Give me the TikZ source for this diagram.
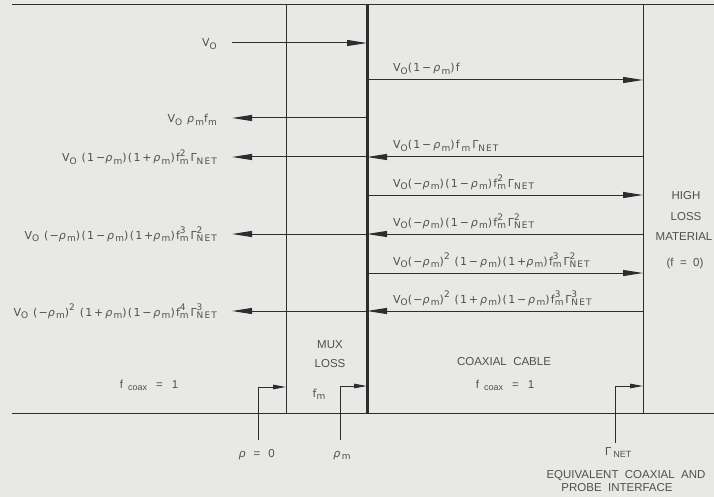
\documentclass[tikz,border=0pt]{standalone}
\usepackage{fontspec}
\setmainfont{Liberation Sans}
\newfontfamily\fxf[LetterSpace=12]{DejaVu Sans}
\usetikzlibrary{arrows.meta}
\definecolor{bgc}{RGB}{232,232,230}
\definecolor{lnc}{RGB}{45,45,45}
\definecolor{txc}{RGB}{80,80,80}
\newcommand\ssz{\fontsize{9}{9}\selectfont}
\newcommand\sbx[1]{\raisebox{-0.45ex}{\ssz #1}}
\newcommand\spx[1]{\raisebox{0.85ex}{\ssz #1}}
\newcommand\supsub[2]{\rlap{\raisebox{0.85ex}{\ssz #1}}\raisebox{-0.45ex}{\ssz #2}}
\newcommand\Vo{V\sbx{O}}
\newcommand\rh{\textit{ρ}\sbx{m}}
\newcommand\fmx[1]{f\supsub{#1}{m}}
\newcommand\GNx[1]{Γ\supsub{#1}{NET}}
\newcommand\mi{−}
\begin{document}
\begin{tikzpicture}[x=1pt,y=-1pt,
  font=\fontsize{11.5}{13}\selectfont,
  lbl/.style={text=txc, inner sep=0pt},
  flab/.style={text=txc, inner sep=0pt, font=\fxf\fontsize{11}{13}\selectfont},
  wire/.style={draw=lnc, line width=1pt},
  heavywire/.style={draw=lnc, line width=3pt},
  sig/.style={draw=lnc, line width=1pt, -{Triangle[length=20pt,width=6pt]}},
  ptr/.style={draw=lnc, line width=1pt, -{Triangle[length=13pt,width=4.5pt]}}]
\fill[bgc] (0,0) rectangle (714,497);
\useasboundingbox (0,0) rectangle (714,497);

% frame
\coordinate (TL) at (12,5);   \coordinate (TR) at (714,5);
\coordinate (BL) at (12,413); \coordinate (BR) at (714,413);
\coordinate (m1t) at (286,5);  \coordinate (m1b) at (286,413);
\coordinate (m2t) at (367,5);  \coordinate (m2b) at (367,413);
\coordinate (m3t) at (643,5);  \coordinate (m3b) at (643,413);
\draw[wire] (TL) -- (TR);
\draw[wire] (BL) -- (BR);
\draw[wire] (m1t) -- (m1b);
\draw[wire] (m3t) -- (m3b);
\draw[heavywire] (m2t) -- (m2b);

% rows
\foreach \n/\y in {1/43,2/80,3/118,4/157,5/195,6/234,7/273,8/311}{
  \coordinate (L\n) at (232,\y);
  \coordinate (M\n) at (367,\y);
  \coordinate (R\n) at (643,\y);
}
\draw[sig] (L1) -- (M1);
\draw[sig] (M2) -- (R2);
\draw[sig] (M3) -- (L3);
\draw[sig] (M4) -- (L4);
\draw[sig] (R4) -- (M4);
\draw[sig] (M5) -- (R5);
\draw[sig] (M6) -- (L6);
\draw[sig] (R6) -- (M6);
\draw[sig] (M7) -- (R7);
\draw[sig] (M8) -- (L8);
\draw[sig] (R8) -- (M8);

% left labels
\node[flab, anchor=base east] (tl1) at (217,47)  {\Vo};
\node[flab, anchor=base east] (tl3) at (217,123) {\Vo\ \rh f\sbx{m}};
\node[flab, anchor=base east] (tl4) at (217,162) {\Vo\ (1\,\mi\rh)(1\,+\,\rh)\fmx{2}\,\GNx{}};
\node[flab, anchor=base east] (tl6) at (217,239) {\Vo\ (\mi\rh)(1\,\mi\,\rh)(1\,+\rh)\fmx{3}\,\GNx{2}};
\node[flab, anchor=base east] (tl8) at (217,316) {\Vo\ (\mi\rh)\spx{2}\ (1\,+\,\rh)(1\,\mi\,\rh)\fmx{4}\,\GNx{3}};

% right labels
\node[flab, anchor=base west] (tr2) at (393,72)  {\Vo(1\,\mi\,\rh)f};
\node[flab, anchor=base west] (tr4) at (393,149) {\Vo(1\,\mi\,\rh)f\,\sbx{m}\,\GNx{}};
\node[flab, anchor=base west] (tr5) at (393,187) {\Vo(\mi\rh)(1\,\mi\,\rh)\fmx{2}\,\GNx{}};
\node[flab, anchor=base west] (tr6) at (393,226) {\Vo(\mi\rh)(1\,\mi\,\rh)\fmx{2}\,\GNx{2}};
\node[flab, anchor=base west] (tr7) at (393,265) {\Vo(\mi\rh)\spx{2}\ (1\,\mi\,\rh)(1\,+\rh)\fmx{3}\,\GNx{2}};
\node[flab, anchor=base west] (tr8) at (393,303) {\Vo(\mi\rh)\spx{2}\ (1\,+\,\rh)(1\,\mi\,\rh)\fmx{3}\,\GNx{3}};

% material
\node[lbl, anchor=base] (hi) at (686,200) {HIGH};
\node[lbl, anchor=base] (lo) at (686,220) {LOSS};
\node[lbl, anchor=base] (ma) at (684,240) {MATERIAL};
\node[lbl, anchor=base] (fz) at (685,266) {(f\ \ =\ \ 0)};

% lower texts
\node[lbl, anchor=base] (mux) at (330,348) {MUX};
\node[lbl, anchor=base] (mloss) at (330,367) {LOSS};
\node[flab, anchor=base] (fm) at (319,397) {f\sbx{m}};
\node[lbl, anchor=base] (fc1) at (149,388) {f\hspace{5pt}\sbx{coax}\hspace{9pt}=\hspace{9pt}1};
\node[lbl, anchor=base] (cc) at (504,365) {COAXIAL\ \ CABLE};
\node[lbl, anchor=base] (fc2) at (505,388) {f\hspace{5pt}\sbx{coax}\hspace{9pt}=\hspace{9pt}1};
\node[lbl, anchor=base] (r0) at (257,457) {\textit{ρ}\hspace{8pt}=\hspace{8pt}0};
\node[flab, anchor=base] (rm) at (342,457) {\rh};
\node[lbl, anchor=base west] (gn) at (605,455) {Γ\,\sbx{NET}};
\node[lbl, anchor=base] (eq1) at (626,478) {EQUIVALENT\ \ COAXIAL\ \ AND};
\node[lbl, anchor=base] (eq2) at (617,491) {PROBE\ \ INTERFACE};

% interface pointers
\coordinate (p0) at (258,440); \coordinate (p0t) at (286,387);
\coordinate (pm) at (340,440); \coordinate (pmt) at (367,386);
\coordinate (pg) at (615,443); \coordinate (pgt) at (643,386);
\draw[ptr] (p0) |- (p0t);
\draw[ptr] (pm) |- (pmt);
\draw[ptr] (pg) |- (pgt);
\end{tikzpicture}
\end{document}
